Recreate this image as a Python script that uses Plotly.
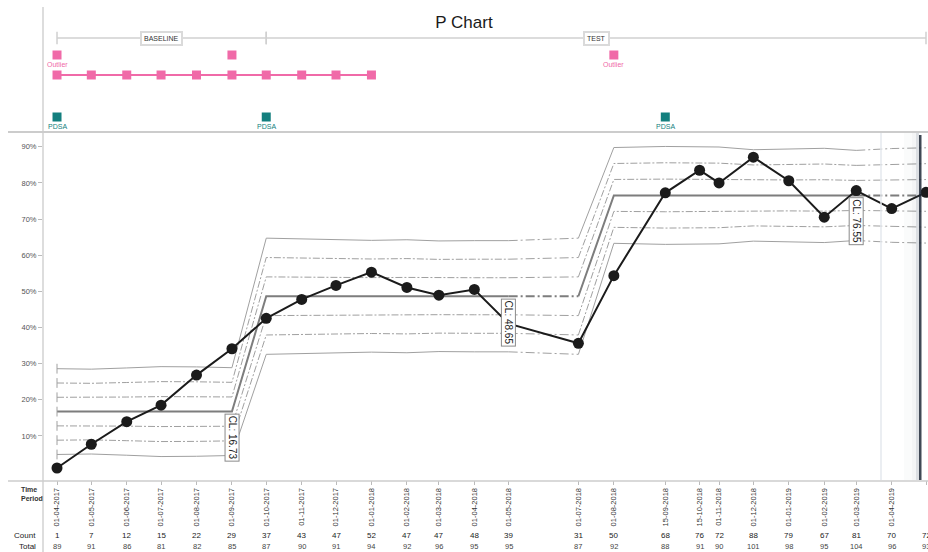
import numpy as np
import pandas as pd
import plotly.graph_objects as go

# ---------------- data ----------------
dates = ["2017-04-01", "2017-05-01", "2017-06-01", "2017-07-01", "2017-08-01", "2017-09-01",
         "2017-10-01", "2017-11-01", "2017-12-01", "2018-01-01", "2018-02-01", "2018-03-01",
         "2018-04-01", "2018-05-01", "2018-07-01", "2018-08-01", "2018-09-15", "2018-10-15",
         "2018-11-01", "2018-12-01", "2019-01-01", "2019-02-01", "2019-03-01", "2019-04-01",
         "2019-05-01"]
counts = [1, 7, 12, 15, 22, 29, 37, 43, 47, 52, 47, 47, 48, 39, 31, 50, 68, 76, 72, 88, 79, 67, 81, 70, 72]
totals = [89, 91, 86, 81, 82, 85, 87, 90, 91, 94, 92, 96, 95, 95, 87, 92, 88, 91, 90, 101, 98, 95, 104, 96, 93]

# phase of each point and index window used to compute each phase's centre line
point_phase = [0] * 6 + [1] * 9 + [2] * 10
calc_windows = [(0, 5), (6, 13), (15, 22)]

phase_names = ["BASELINE", "TEST"]
phase_starts = ["2017-04-01", "2017-10-01"]
phase_ends = ["2017-10-01", "2019-05-01"]

outlier_dates = ["2017-04-01", "2017-09-01", "2018-08-01"]
outlier_labels = ["Outlier", "", "Outlier"]
run_dates = dates[:10]
pdsa_dates = ["2017-04-01", "2017-10-01", "2018-09-15"]

y_ticks = [10, 20, 30, 40, 50, 60, 70, 80, 90]

# ---------------- computations ----------------
c = np.array(counts, float)
t = np.array(totals, float)
pct = c / t * 100
x = pd.to_datetime(dates)
tick_text = [d.strftime("%d-%m-%Y") for d in x]

cls = []
for a, b in calc_windows:
    cls.append(c[a:b + 1].sum() / t[a:b + 1].sum())
p_pt = np.array([cls[ph] for ph in point_phase])
sig = np.sqrt(p_pt * (1 - p_pt) / t) * 100

W, H = 928, 552
ML, MR, MT, MB = 43, 0, 0, 72
plot_h = H - MT - MB
plot_w = W - ML - MR


def py(pix):  # pixel y -> paper y
    return (plot_h - pix) / plot_h


def px(pix):  # pixel x -> paper x
    return (pix - ML) / plot_w


fig = go.Figure()

GREY = "#a0a0a0"
CLGREY = "#7d7d7d"
FONT = "Liberation Sans, Arial"

# control lines
in_segs = [(0, 13), (14, 22)]
ext_segs = [(13, 14), (22, 24)]


def seg_xy(vals, segs):
    xs, ys = [], []
    for a, b in segs:
        xs += list(x[a:b + 1]) + [None]
        ys += list(vals[a:b + 1]) + [None]
    return xs, ys


for k in [-3, -2, -1, 1, 2, 3, 0]:
    vals = p_pt * 100 + k * sig
    if k == 0:
        st_in = dict(color=CLGREY, width=2)
        st_ext = dict(color=CLGREY, width=2, dash="9px,3px,2px,3px")
    elif abs(k) == 3:
        st_in = dict(color=GREY, width=1)
        st_ext = dict(color=GREY, width=1, dash="9px,3px,2px,3px")
    else:
        st_in = dict(color=GREY, width=1, dash="7px,2px,2px,2px")
        st_ext = dict(color=GREY, width=1, dash="9px,3px,2px,3px")
    xs, ys = seg_xy(vals, in_segs)
    fig.add_trace(go.Scatter(x=xs, y=ys, mode="lines", line=st_in, hoverinfo="skip", showlegend=False))
    xs, ys = seg_xy(vals, ext_segs)
    fig.add_trace(go.Scatter(x=xs, y=ys, mode="lines", line=st_ext, hoverinfo="skip", showlegend=False))

# start caps
cap_vals = [p_pt[0] * 100 + k * sig[0] for k in [-3, -2, -1, 0, 1, 2, 3]]
fig.add_trace(go.Scatter(x=[x[0]] * 7, y=cap_vals, mode="markers",
                         marker=dict(symbol="line-ns-open", size=7, color=GREY,
                                     line=dict(color=GREY, width=1)),
                         hoverinfo="skip", showlegend=False))

# data
fig.add_trace(go.Scatter(x=x, y=pct, mode="lines+markers",
                         line=dict(color="#1b1b1b", width=2),
                         marker=dict(size=11, color="#1b1b1b"),
                         showlegend=False))

# CL labels
for (a, b), cl in zip(calc_windows, cls):
    fig.add_annotation(x=x[b], y=cl * 100, xref="x", yref="y", text=f"CL: {cl * 100:.2f}",
                       textangle=90, showarrow=False, xanchor="center", yanchor="top", yshift=-2,
                       font=dict(size=10, color="#222", family=FONT),
                       bgcolor="white", bordercolor="#8a8a8a", borderwidth=1, borderpad=1)

# ---------------- top panel ----------------
PINK = "#f06aa8"
TEAL = "#137f7e"
for name, s, e in zip(phase_names, phase_starts, phase_ends):
    fig.add_trace(go.Scatter(x=[s, e], y=[38, 38], yaxis="y2", mode="lines+markers",
                             line=dict(color="#dcdcdc", width=2),
                             marker=dict(symbol="line-ns-open", size=9, color="#d0d0d0",
                                         line=dict(color="#d0d0d0", width=1.5)),
                             hoverinfo="skip", showlegend=False))
    mid = pd.to_datetime(s) + (pd.to_datetime(e) - pd.to_datetime(s)) / 2
    fig.add_annotation(x=mid, y=38, xref="x", yref="y2", text=name, showarrow=False,
                       xanchor="center", yanchor="middle",
                       font=dict(size=7, color="#333", family=FONT),
                       bgcolor="white", bordercolor="#dadada", borderwidth=2, borderpad=2)

fig.add_trace(go.Scatter(x=outlier_dates, y=[55] * len(outlier_dates), yaxis="y2", mode="markers",
                         marker=dict(symbol="square", size=9, color=PINK),
                         hoverinfo="skip", showlegend=False))
for d, lab in zip(outlier_dates, outlier_labels):
    if lab:
        fig.add_annotation(x=d, y=64, xref="x", yref="y2", text=lab, showarrow=False,
                           xanchor="center", yanchor="middle",
                           font=dict(size=7, color=PINK, family=FONT))
fig.add_trace(go.Scatter(x=run_dates, y=[75] * len(run_dates), yaxis="y2", mode="lines+markers",
                         line=dict(color=PINK, width=2),
                         marker=dict(symbol="square", size=9, color=PINK),
                         hoverinfo="skip", showlegend=False))
fig.add_trace(go.Scatter(x=pdsa_dates, y=[117] * len(pdsa_dates), yaxis="y2", mode="markers",
                         marker=dict(symbol="square", size=9, color=TEAL),
                         hoverinfo="skip", showlegend=False))
for d in pdsa_dates:
    fig.add_annotation(x=d, y=126, xref="x", yref="y2", text="PDSA", showarrow=False,
                       xanchor="center", yanchor="middle",
                       font=dict(size=7, color=TEAL, family=FONT))

# ---------------- bottom table ----------------
for d, cnt, tot in zip(x, counts, totals):
    fig.add_annotation(x=d, y=py(535), xref="x", yref="paper", text=str(cnt), showarrow=False,
                       xanchor="center", yanchor="middle",
                       font=dict(size=8, color="#222", family=FONT))
    fig.add_annotation(x=d, y=py(546), xref="x", yref="paper", text=str(tot), showarrow=False,
                       xanchor="center", yanchor="middle",
                       font=dict(size=7.5, color="#444", family=FONT))
fig.add_annotation(x=px(19), y=py(494), xref="paper", yref="paper", text="<b>Time<br>Period</b>",
                   showarrow=False, xanchor="left", yanchor="middle", align="left",
                   font=dict(size=7, color="#333", family=FONT))
for lab, yy in [("Count", 535), ("Total", 546)]:
    fig.add_annotation(x=px(38), y=py(yy), xref="paper", yref="paper", text=lab, showarrow=False,
                       xanchor="right", yanchor="middle", font=dict(size=8, color="#222", family=FONT))

# ---------------- frame shapes ----------------
shapes = [
    dict(type="line", xref="paper", yref="paper", x0=0, x1=0, y0=py(552), y1=py(7),
         line=dict(color="#dddddd", width=2)),
    dict(type="line", xref="paper", yref="paper", x0=px(8), x1=1, y0=py(132), y1=py(132),
         line=dict(color="#cccccc", width=2)),
    dict(type="line", xref="paper", yref="paper", x0=px(8), x1=1, y0=py(481), y1=py(481),
         line=dict(color="#cccccc", width=1.5)),
    # scroll shadow at the right edge
    dict(type="line", xref="paper", yref="paper", x0=px(881), x1=px(881), y0=py(480), y1=py(133),
         line=dict(color="#e4e8ee", width=1.5)),
    dict(type="rect", xref="paper", yref="paper", x0=px(904), x1=px(912), y0=py(480), y1=py(133),
         fillcolor="rgba(60,80,100,0.025)", line=dict(width=0)),
    dict(type="rect", xref="paper", yref="paper", x0=px(912), x1=px(916), y0=py(480), y1=py(133),
         fillcolor="rgba(60,80,100,0.06)", line=dict(width=0)),
    dict(type="rect", xref="paper", yref="paper", x0=px(916), x1=px(919), y0=py(480), y1=py(133),
         fillcolor="rgba(60,80,100,0.18)", line=dict(width=0)),
    dict(type="rect", xref="paper", yref="paper", x0=px(919), x1=px(921.5), y0=py(480), y1=py(135),
         fillcolor="rgba(30,40,55,0.85)", line=dict(width=0)),
]

x_left = x[0] - pd.Timedelta(days=12.25)
x_right = x[0] + pd.Timedelta(days=761.75)

fig.update_layout(
    width=W, height=H,
    margin=dict(l=ML, r=MR, t=MT, b=MB),
    paper_bgcolor="white", plot_bgcolor="white",
    font=dict(family=FONT, color="#333"),
    title=dict(text="P Chart", x=0.5, xref="container", xanchor="center",
               y=1 - 22 / H, yref="container", yanchor="middle",
               font=dict(size=17, color="#1a1a1a", family=FONT)),
    xaxis=dict(type="date", range=[x_left, x_right], tickvals=x, ticktext=tick_text,
               tickangle=-90, tickfont=dict(size=7.5, color="#333"), ticks="outside",
               ticklen=4, tickcolor="#bbbbbb", showgrid=False, zeroline=False, showline=False,
               anchor="y"),
    yaxis=dict(domain=[0, py(132)], range=[-2.2, 94.1], tickvals=y_ticks,
               ticktext=[f"{v}%" for v in y_ticks], tickfont=dict(size=7.5, color="#555"),
               ticks="outside", ticklen=4, tickcolor="#bbbbbb", showgrid=False,
               zeroline=False, showline=False),
    yaxis2=dict(domain=[py(132), 1], range=[132, 0], visible=False, anchor="x"),
    shapes=shapes,
)

fig.write_html("out.html", config={"displayModeBar": False},
               post_script="document.body.style.margin='0px';document.body.style.overflow='hidden';")
